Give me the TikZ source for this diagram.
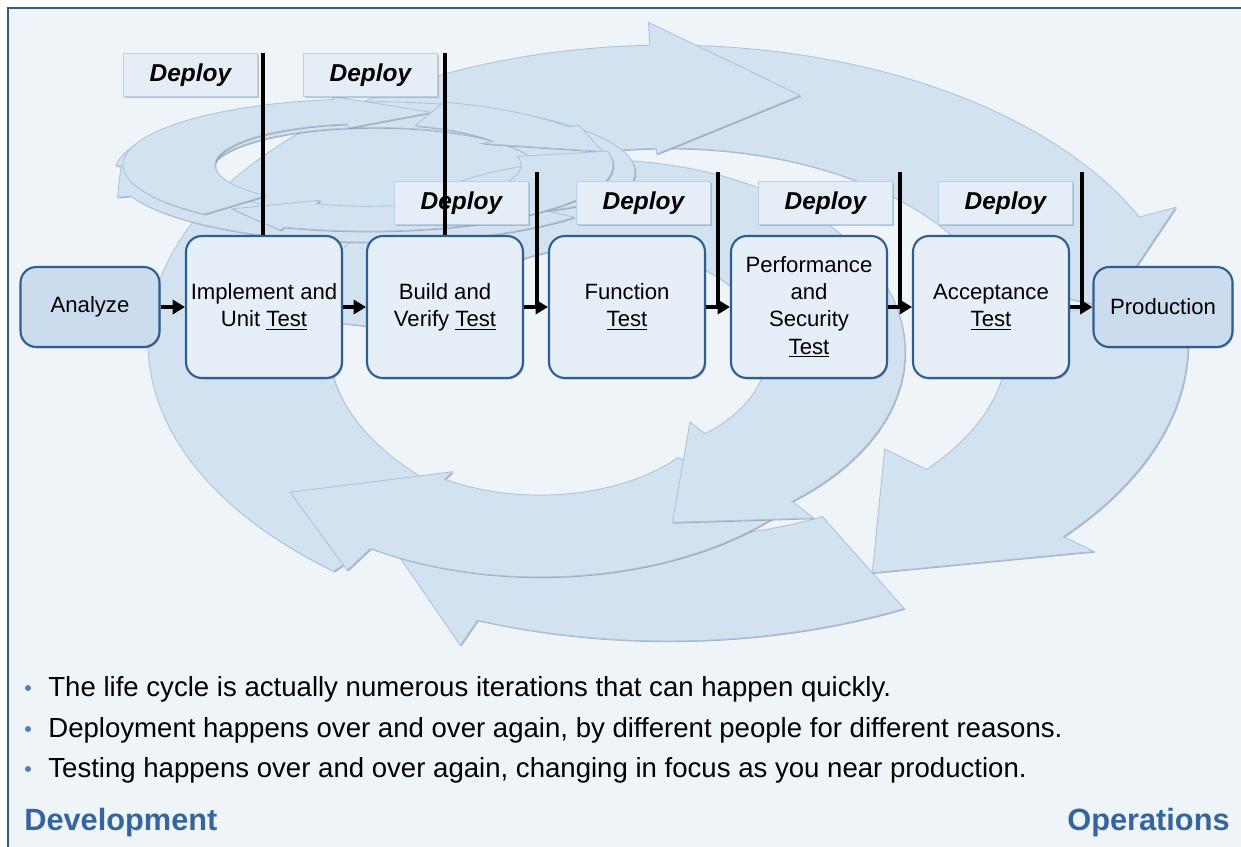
\documentclass[tikz,border=0pt]{standalone}
\usepackage{fontspec}
\setmainfont{Liberation Sans}
\usetikzlibrary{arrows.meta,shadows}

\definecolor{pagefill}{HTML}{EFF4F9}
\definecolor{framecol}{HTML}{2D5B8F}
\definecolor{ringfill}{HTML}{D3E2F1}
\definecolor{ringedge}{HTML}{A9C4E1}
\definecolor{stagefill}{HTML}{E6EEF7}
\definecolor{endfill}{HTML}{CBDCEE}
\definecolor{stageedge}{HTML}{2F5F90}
\definecolor{deployfill}{HTML}{E5EDF6}
\definecolor{deployedge}{HTML}{BACFE5}
\definecolor{headcol}{HTML}{35659E}
\definecolor{dotcol}{HTML}{4F81BD}

% one arrow of a cycle, around the origin of the current scope
% #1 outer radius, #2 band width, #3 tail angle, #4 head base angle,
% #5 tip angle, #6 tip radius, #7 outer barb, #8 inner barb
\newcommand{\cyclearrow}[8]{%
  \filldraw[loop arrow]
    plot[domain=#3:#4] ({#1*cos(\x)},{#1*sin(\x)})
    -- ({(#1+#7)*cos(#4)},{(#1+#7)*sin(#4)})
    -- ({#6*cos(#5)},{#6*sin(#5)})
    -- ({(#1-#2-#8)*cos(#4)},{(#1-#2-#8)*sin(#4)})
    -- plot[domain=#4:#3] ({(#1-#2)*cos(\x)},{(#1-#2)*sin(\x)})
    -- cycle;}

\tikzset{
  loop arrow/.style={fill=ringfill, draw=ringedge, line width=0.5pt, samples=60,
    drop shadow={shadow xshift=0.7pt, shadow yshift=-0.7pt, opacity=0.5, fill=black!55}},
  stage/.style={draw=stageedge, line width=1.2pt, fill=stagefill, rounded corners=9pt,
    minimum width=3.12cm, minimum height=2.84cm, inner sep=0pt, align=center,
    font=\fontsize{12.6}{15.5}\selectfont,
    drop shadow={shadow xshift=0.6pt, shadow yshift=-0.8pt, opacity=0.45, fill=black!60}},
  endstage/.style={stage, fill=endfill, minimum width=2.78cm, minimum height=1.6cm},
  deploy/.style={fill=deployfill, draw=deployedge, line width=0.7pt,
    minimum width=2.68cm, minimum height=0.86cm, inner sep=0pt,
    font=\fontsize{13.9}{16}\selectfont\bfseries\itshape,
    drop shadow={shadow xshift=0.9pt, shadow yshift=-0.9pt, opacity=0.5, fill=black!45}},
  flow/.style={line width=2pt, -{Triangle[length=7pt,width=8pt]}},
  gate/.style={line width=2pt},
  note/.style={anchor=base west, inner sep=0pt, font=\fontsize{15.7}{19}\selectfont},
  side/.style={inner sep=0pt, font=\fontsize{17.5}{21}\selectfont\bfseries, text=headcol},
}

\begin{document}
\begin{tikzpicture}[x=0.02cm, y=-0.02cm]
  \useasboundingbox (0,0) rectangle (1241,846);
  \clip (0,0) rectangle (1241,846);
  \fill[white] (0,0) rectangle (1241,846);
  \filldraw[fill=pagefill, draw=framecol, line width=1.3pt] (8,8) rectangle (1262,868);

  % outer cycle
  \begin{scope}[shift={(668,343)}, yscale=0.573]
    \cyclearrow{520}{180}{270}{335}{352}{445}{40}{40}
    \cyclearrow{520}{180}{352}{400.5}{423}{450}{40}{55}
    \cyclearrow{520}{180}{423}{471.5}{490}{440}{47}{50}
    \cyclearrow{520}{180}{130}{268}{287}{452}{40}{10}
  \end{scope}
  % middle cycle
  \begin{scope}[shift={(540,390)}, yscale=0.584]
    \cyclearrow{320}{140}{40}{122}{145}{305}{44}{15}
  \end{scope}
  \begin{scope}[shift={(600,352)}, yscale=0.63]
    \cyclearrow{305}{138}{190}{411}{435}{280}{34}{24}
  \end{scope}
  % small cycle
  \begin{scope}[shift={(375,172)}, yscale=0.27]
    \cyclearrow{260}{95}{185}{380}{400}{225}{14}{14}
    \cyclearrow{260}{95}{40}{160}{185}{255}{14}{14}
  \end{scope}
  \begin{scope}[shift={(368,165)}, yscale=0.27]
    \cyclearrow{245}{92}{132}{262}{288}{205}{12}{14}
    \cyclearrow{245}{92}{288}{325}{348}{240}{12}{14}
    \cyclearrow{245}{92}{348}{470}{490}{212}{12}{14}
  \end{scope}

  % stages
  \node[endstage] (analyze) at (90,307) {Analyze};
  \node[stage] (implement) at (264,307) {Implement and\\Unit \underline{Test}};
  \node[stage] (build) at (445,307) {Build and\\Verify \underline{Test}};
  \node[stage] (function) at (627,307) {Function\\\underline{Test}};
  \node[stage] (perf) at (809,307) {Performance\\and\\Security\\\underline{Test}};
  \node[stage] (accept) at (991,307) {Acceptance\\\underline{Test}};
  \node[endstage] (production) at (1163,307) {Production};

  \foreach \a/\b in {analyze/implement, implement/build, build/function,
                     function/perf, perf/accept, accept/production}
    \draw[flow] (\a) -- (\b);

  % deploy points
  \node[deploy, anchor=north east] (dep1) at (258,53) {Deploy};
  \node[deploy, anchor=north east] (dep2) at (438,53) {Deploy};
  \node[deploy, anchor=north east] (dep3) at (529,181) {Deploy};
  \node[deploy, anchor=north east] (dep4) at (711,181) {Deploy};
  \node[deploy, anchor=north east] (dep5) at (893,181) {Deploy};
  \node[deploy, anchor=north east] (dep6) at (1073,181) {Deploy};

  \coordinate (gate1) at (263,53);
  \coordinate (gate2) at (445,53);
  \coordinate (gate3) at (537,172);
  \coordinate (gate4) at (718,172);
  \coordinate (gate5) at (900,172);
  \coordinate (gate6) at (1082,172);
  \draw[gate] (gate1) -- (gate1 |- implement.north);
  \draw[gate] (gate2) -- (gate2 |- build.north);
  \draw[gate] (gate3) -- (gate3 |- function.west);
  \draw[gate] (gate4) -- (gate4 |- perf.west);
  \draw[gate] (gate5) -- (gate5 |- accept.west);
  \draw[gate] (gate6) -- (gate6 |- production.west);

  % notes
  \fill[dotcol] (28,688) circle (3);
  \fill[dotcol] (28,729) circle (3);
  \fill[dotcol] (28,769) circle (3);
  \node[note] (note1) at (48,696) {The life cycle is actually numerous iterations that can happen quickly.};
  \node[note] (note2) at (48,737) {Deployment happens over and over again, by different people for different reasons.};
  \node[note] (note3) at (48,777) {Testing happens over and over again, changing in focus as you near production.};

  \node[side, anchor=base west] (dev) at (24,830) {Development};
  \node[side, anchor=base east] (ops) at (1230,830) {Operations};
\end{tikzpicture}
\end{document}
